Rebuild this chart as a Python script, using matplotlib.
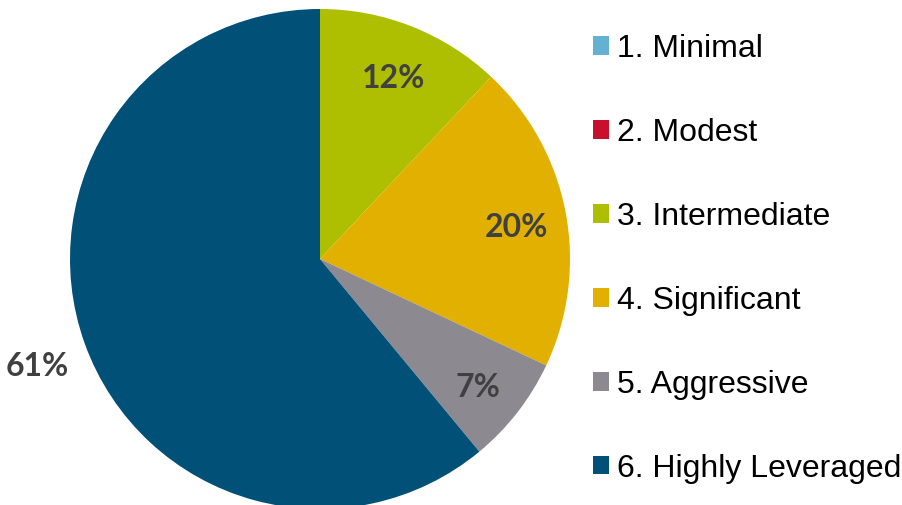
import numpy as np
import matplotlib.pyplot as plt
from matplotlib.patches import Patch

# data
categories = ['1. Minimal', '2. Modest', '3. Intermediate', '4. Significant',
              '5. Aggressive', '6. Highly Leveraged']
shares = [0, 0, 12, 20, 7, 61]
colors = ['#65B1D2', '#C8102E', '#ADBF00', '#E1B000', '#8C8A90', '#005078']

fig = plt.figure(figsize=(9.02, 5.05), dpi=100)
ax = fig.add_axes([0, 0, 1, 1])

wedges, _ = ax.pie(shares, colors=colors, startangle=90, counterclock=False,
                   center=(320, 246), radius=250, frame=True)
ax.set_xlim(0, 902)
ax.set_ylim(0, 505)
ax.set_aspect('equal')
ax.axis('off')

# percentage labels: inside for small slices, outside for the big one
for w, v in zip(wedges, shares):
    if v == 0:
        continue
    ang = np.deg2rad((w.theta1 + w.theta2) / 2)
    r = w.r * (1.2 if v > 50 else 0.8)
    x = w.center[0] + r * np.cos(ang)
    y = w.center[1] + r * np.sin(ang)
    ax.text(x, y - 3, f'{v}%', ha='center', va='center_baseline', fontsize=23,
            fontweight='bold', color='#404040', family='Lato')

handles = [Patch(facecolor=c, edgecolor='none') for c in colors]
leg = fig.legend(handles, categories, loc='upper left', bbox_to_anchor=(0.6255, 0.990),
                 frameon=False, prop={'family': 'Liberation Sans', 'size': 23},
                 handlelength=0.5, handleheight=0.5, handletextpad=0.25,
                 labelspacing=1.69)

plt.savefig('out.png', dpi=100)
